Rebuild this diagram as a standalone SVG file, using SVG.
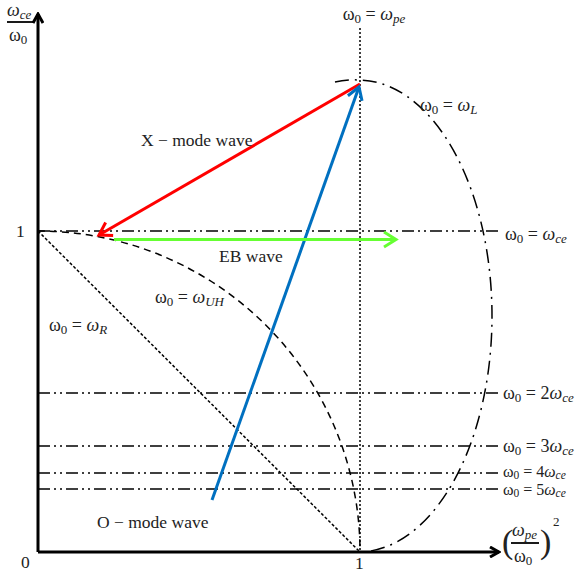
<svg xmlns="http://www.w3.org/2000/svg" width="580" height="573" viewBox="0 0 580 573">
<style>
text{font-family:"Liberation Serif","DejaVu Serif",serif;font-size:18px;fill:#222}
.i{font-style:italic}
.s{font-size:13px}
.t{font-size:17.5px}
.k{font-size:16px}
.k .s{font-size:11.5px}
.axis{stroke:#000;stroke-width:3;fill:none}
.dd{stroke:#000;stroke-width:1.5;fill:none;stroke-dasharray:12 4 2 4 2 4}
.dl{stroke:#000;stroke-width:1.5;fill:none;stroke-dasharray:14 6 2 6}
</style>
<defs>
<marker id="ah" viewBox="0 0 12 12" refX="10" refY="6" markerWidth="12" markerHeight="12" markerUnits="userSpaceOnUse" orient="auto"><path d="M1,1 L10,6 L1,11" fill="none" stroke="#000" stroke-width="3"/></marker>
<marker id="ar" viewBox="0 0 12 12" refX="9" refY="6" markerWidth="6" markerHeight="6" orient="auto"><path d="M1,1 L9,6 L1,11" fill="none" stroke="#ff0000" stroke-width="2"/></marker>
<marker id="ab" viewBox="0 0 12 12" refX="9" refY="6" markerWidth="6" markerHeight="6" orient="auto"><path d="M1,1 L9,6 L1,11" fill="none" stroke="#0070c0" stroke-width="2"/></marker>
<marker id="ag" viewBox="0 0 12 12" refX="9" refY="6" markerWidth="6" markerHeight="6" orient="auto"><path d="M1,1 L9,6 L1,11" fill="none" stroke="#66ff33" stroke-width="2"/></marker>
</defs>
<g id="axes">
<line class="axis" x1="38" y1="552" x2="38" y2="14" marker-end="url(#ah)"/>
<line class="axis" x1="38" y1="552" x2="499" y2="552" marker-end="url(#ah)"/>
<text x="21" y="568" class="t">0</text>
<text x="16" y="237" class="t">1</text>
<text x="355" y="569" class="t">1</text>
<text x="7" y="16" class="i">ω<tspan class="s" dy="3">ce</tspan></text>
<line x1="7" y1="22" x2="34" y2="22" stroke="#000" stroke-width="1.8"/>
<text x="9" y="41">ω<tspan class="s" dy="3">0</tspan></text>
<text x="502" y="553" style="font-size:34px">(</text>
<text x="512" y="536" class="i">ω<tspan class="s" dy="3">pe</tspan></text>
<line x1="511" y1="543" x2="539" y2="543" stroke="#000" stroke-width="1.8"/>
<text x="514" y="562">ω<tspan class="s" dy="3">0</tspan></text>
<text x="540" y="553" style="font-size:34px">)</text>
<text x="553" y="526" class="s">2</text>
</g>
<g id="lines">
<line x1="360" y1="28" x2="360" y2="552" stroke="#000" stroke-width="1.5" stroke-dasharray="2 2"/>
<line class="dd" x1="38" y1="231" x2="500" y2="231"/>
<line class="dd" x1="38" y1="393" x2="500" y2="393"/>
<line class="dd" x1="38" y1="446" x2="500" y2="446"/>
<line class="dd" x1="38" y1="473" x2="500" y2="473"/>
<line class="dd" x1="38" y1="489" x2="500" y2="489"/>
<path class="dl" d="M335,82 A134,236 0 0 1 358,80 A134,236 0 0 1 358,552"/>
<path d="M38,231 A322,321 0 0 1 360,552" fill="none" stroke="#000" stroke-width="1.5" stroke-dasharray="7 5"/>
<line x1="38" y1="231" x2="360" y2="552" stroke="#000" stroke-width="1.5" stroke-dasharray="3 2"/>
</g>
<g id="connectors">
<line x1="360" y1="84" x2="99" y2="235" stroke="#ff0000" stroke-width="3" marker-end="url(#ar)"/>
<line x1="212" y1="500" x2="359" y2="87" stroke="#0070c0" stroke-width="3" marker-end="url(#ab)"/>
<line x1="114" y1="239.5" x2="396" y2="239.5" stroke="#66ff33" stroke-width="3" marker-end="url(#ag)"/>
</g>
<g id="labels">
<text x="374" y="20" text-anchor="middle">ω<tspan class="s" dy="3">0</tspan><tspan dy="-3"> = </tspan><tspan class="i">ω</tspan><tspan class="s i" dy="3">pe</tspan></text>
<text x="420" y="111">ω<tspan class="s" dy="3">0</tspan><tspan dy="-3"> = </tspan><tspan class="i">ω</tspan><tspan class="s i" dy="3">L</tspan></text>
<text x="505" y="240">ω<tspan class="s" dy="3">0</tspan><tspan dy="-3"> = </tspan><tspan class="i">ω</tspan><tspan class="s i" dy="3">ce</tspan></text>
<text x="503" y="399">ω<tspan class="s" dy="3">0</tspan><tspan dy="-3"> = 2</tspan><tspan class="i">ω</tspan><tspan class="s i" dy="3">ce</tspan></text>
<text x="503" y="452">ω<tspan class="s" dy="3">0</tspan><tspan dy="-3"> = 3</tspan><tspan class="i">ω</tspan><tspan class="s i" dy="3">ce</tspan></text>
<text x="503" y="477" class="k">ω<tspan class="s" dy="2">0</tspan><tspan dy="-2"> = 4</tspan><tspan class="i">ω</tspan><tspan class="s i" dy="2">ce</tspan></text>
<text x="503" y="495" class="k">ω<tspan class="s" dy="2">0</tspan><tspan dy="-2"> = 5</tspan><tspan class="i">ω</tspan><tspan class="s i" dy="2">ce</tspan></text>
<text x="155" y="303">ω<tspan class="s" dy="3">0</tspan><tspan dy="-3"> = </tspan><tspan class="i">ω</tspan><tspan class="s i" dy="3">UH</tspan></text>
<text x="49" y="331">ω<tspan class="s" dy="3">0</tspan><tspan dy="-3"> = </tspan><tspan class="i">ω</tspan><tspan class="s i" dy="3">R</tspan></text>
<text x="141" y="146" class="t">X − mode wave</text>
<text x="219" y="262" class="t">EB wave</text>
<text x="97" y="528" class="t">O − mode wave</text>
</g>
</svg>
